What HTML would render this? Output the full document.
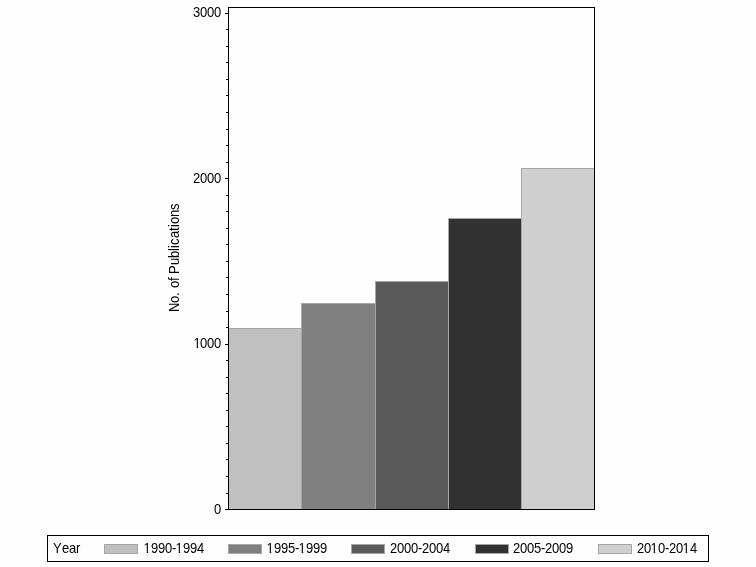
<!DOCTYPE html>
<html><head><meta charset="utf-8"><title>No. of Publications by Year</title>
<style>
html,body{margin:0;padding:0;background:#fefefe;}
body{width:756px;height:567px;overflow:hidden;}
svg{display:block;will-change:transform;}
text{font-family:"Liberation Sans",Arial,Helvetica,sans-serif;font-size:14px;fill:#000;}
</style></head><body>
<svg width="756" height="567" viewBox="0 0 756 567">
<rect x="0" y="0" width="756" height="567" fill="#fefefe"/>
<g shape-rendering="crispEdges">
<rect x="228" y="328" width="74" height="182" fill="#a6a6a6"/>
<rect x="229" y="329" width="72" height="180" fill="#c0c0c0"/>
<rect x="301" y="303" width="75" height="207" fill="#a6a6a6"/>
<rect x="302" y="304" width="73" height="205" fill="#808080"/>
<rect x="375" y="281" width="74" height="229" fill="#a6a6a6"/>
<rect x="376" y="282" width="72" height="227" fill="#5a5a5a"/>
<rect x="448" y="218" width="74" height="292" fill="#a6a6a6"/>
<rect x="449" y="219" width="72" height="290" fill="#323232"/>
<rect x="521" y="168" width="74" height="342" fill="#a6a6a6"/>
<rect x="522" y="169" width="72" height="340" fill="#cfcfcf"/>
</g>
<g fill="#000" shape-rendering="crispEdges">
<rect x="228" y="7" width="367" height="1"/>
<rect x="228" y="509" width="367" height="1"/>
<rect x="228" y="7" width="1" height="503"/>
<rect x="594" y="7" width="1" height="503"/>
<rect x="225" y="509" width="3" height="1"/>
<rect x="226" y="493" width="2" height="1"/>
<rect x="226" y="476" width="2" height="1"/>
<rect x="226" y="459" width="2" height="1"/>
<rect x="226" y="443" width="2" height="1"/>
<rect x="226" y="426" width="2" height="1"/>
<rect x="226" y="410" width="2" height="1"/>
<rect x="226" y="393" width="2" height="1"/>
<rect x="226" y="377" width="2" height="1"/>
<rect x="226" y="360" width="2" height="1"/>
<rect x="225" y="344" width="3" height="1"/>
<rect x="226" y="327" width="2" height="1"/>
<rect x="226" y="311" width="2" height="1"/>
<rect x="226" y="294" width="2" height="1"/>
<rect x="226" y="277" width="2" height="1"/>
<rect x="226" y="261" width="2" height="1"/>
<rect x="226" y="244" width="2" height="1"/>
<rect x="226" y="228" width="2" height="1"/>
<rect x="226" y="211" width="2" height="1"/>
<rect x="226" y="195" width="2" height="1"/>
<rect x="225" y="178" width="3" height="1"/>
<rect x="226" y="162" width="2" height="1"/>
<rect x="226" y="145" width="2" height="1"/>
<rect x="226" y="129" width="2" height="1"/>
<rect x="226" y="112" width="2" height="1"/>
<rect x="226" y="95" width="2" height="1"/>
<rect x="226" y="79" width="2" height="1"/>
<rect x="226" y="62" width="2" height="1"/>
<rect x="226" y="46" width="2" height="1"/>
<rect x="226" y="29" width="2" height="1"/>
<rect x="225" y="13" width="3" height="1"/>
</g>
<g fill="#000" shape-rendering="crispEdges">
<rect x="47" y="535" width="662" height="1"/>
<rect x="47" y="561" width="662" height="1"/>
<rect x="47" y="535" width="1" height="27"/>
<rect x="708" y="535" width="1" height="27"/>
</g>
<g shape-rendering="crispEdges">
<rect x="104" y="544" width="34" height="10" fill="#a6a6a6"/>
<rect x="105" y="545" width="32" height="8" fill="#c0c0c0"/>
<rect x="228" y="544" width="34" height="10" fill="#a6a6a6"/>
<rect x="229" y="545" width="32" height="8" fill="#808080"/>
<rect x="351" y="544" width="34" height="10" fill="#a6a6a6"/>
<rect x="352" y="545" width="32" height="8" fill="#5a5a5a"/>
<rect x="475" y="544" width="34" height="10" fill="#a6a6a6"/>
<rect x="476" y="545" width="32" height="8" fill="#323232"/>
<rect x="598" y="544" width="34" height="10" fill="#a6a6a6"/>
<rect x="599" y="545" width="32" height="8" fill="#cfcfcf"/>
</g>
<text x="0 7.54 15.08 22.62" transform="translate(193.00,17.00) scale(0.9286,1)">3000</text>
<text x="0 7.54 15.08 22.62" transform="translate(193.00,183.00) scale(0.9286,1)">2000</text>
<g transform="translate(193.00,348.00) scale(0.9286,1)"><text x="0.65 7.54 15.08 22.62">1000</text><g fill="#fefefe"><rect x="1.05" y="-1.3" width="3.00" height="1.8"/><rect x="5.55" y="-1.3" width="2.60" height="1.8"/></g></g>
<text x="0" transform="translate(214.00,514.00) scale(0.9286,1)">0</text>
<text x="0 9.69 17.23 24.77" transform="translate(53.00,553.00) scale(0.9286,1)">Year</text>
<g transform="translate(144.00,553.00) scale(0.9286,1)"><text x="-0.43 7.54 15.08 22.62 30.15 34.03 42.00 49.54 57.08">1990-1994</text><g fill="#fefefe"><rect x="-0.03" y="-1.3" width="3.00" height="1.8"/><rect x="4.47" y="-1.3" width="2.60" height="1.8"/><rect x="34.43" y="-1.3" width="3.00" height="1.8"/><rect x="38.93" y="-1.3" width="2.60" height="1.8"/></g></g>
<g transform="translate(267.00,553.00) scale(0.9286,1)"><text x="-0.43 7.54 15.08 22.62 30.15 34.03 42.00 49.54 57.08">1995-1999</text><g fill="#fefefe"><rect x="-0.03" y="-1.3" width="3.00" height="1.8"/><rect x="4.47" y="-1.3" width="2.60" height="1.8"/><rect x="34.43" y="-1.3" width="3.00" height="1.8"/><rect x="38.93" y="-1.3" width="2.60" height="1.8"/></g></g>
<text x="0 7.54 15.08 22.62 30.15 34.46 42 49.54 57.08" transform="translate(390.00,553.00) scale(0.9286,1)">2000-2004</text>
<text x="0 7.54 15.08 22.62 30.15 34.46 42 49.54 57.08" transform="translate(513.00,553.00) scale(0.9286,1)">2005-2009</text>
<g transform="translate(637.00,553.00) scale(0.9286,1)"><text x="0.00 7.54 14.65 22.62 30.15 34.46 42.00 49.11 57.08">2010-2014</text><g fill="#fefefe"><rect x="15.05" y="-1.3" width="3.00" height="1.8"/><rect x="19.55" y="-1.3" width="2.60" height="1.8"/><rect x="49.51" y="-1.3" width="3.00" height="1.8"/><rect x="54.01" y="-1.3" width="2.60" height="1.8"/></g></g>
<text x="0 9.69 17.23 21.54 25.85 33.38 36.62 40.92 50.62 58.15 65.69 68.92 72.15 79.69 87.23 91.54 94.77 102.31 109.85" transform="translate(179.00,312.00) rotate(-90) scale(0.9286,1)">No. of Publications</text>
</svg>
</body></html>
